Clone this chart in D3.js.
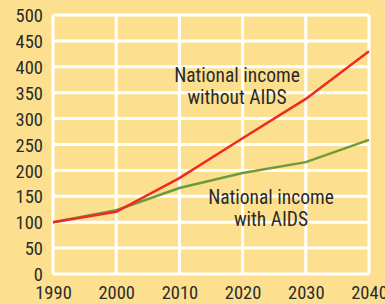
<!DOCTYPE html>
<html>
<head>
<meta charset="utf-8">
<script src="https://cdn.jsdelivr.net/npm/d3@7"></script>
<style>
  body { margin:0; background:#fde08f; }
  svg { display:block; }
  text { font-family:"Liberation Sans Narrow","Roboto Condensed","Liberation Sans",sans-serif; fill:#2b2b2b; }
</style>
</head>
<body>
<div id="vis"></div>
<script>
var years = [1990, 2000, 2010, 2020, 2030, 2040]
var withoutAids = [100, 120, 185, 262, 338, 430]
var withAids = [100, 123, 166, 195, 216, 259]
var yTicks = [0, 50, 100, 150, 200, 250, 300, 350, 400, 450, 500]

var width = 385, height = 304
var svg = d3.select("#vis").append("svg").attr("width", width).attr("height", height)

var x = d3.scaleLinear().domain([1990, 2040]).range([53, 369])
var y = d3.scaleLinear().domain([0, 500]).range([274, 15])

//grid
svg.append("g").selectAll("line").data(yTicks).enter().append("line")
    .attr("x1", 53).attr("x2", 369)
    .attr("y1", function(d){ return y(d) }).attr("y2", function(d){ return y(d) })
    .attr("stroke", "#fff").attr("stroke-width", 3)
svg.append("g").selectAll("line").data(years).enter().append("line")
    .attr("y1", 15).attr("y2", 274)
    .attr("x1", function(d){ return x(d) }).attr("x2", function(d){ return x(d) })
    .attr("stroke", "#fff").attr("stroke-width", 3)

//axes labels
var yAxis = svg.append("g").attr("transform", "translate(43,0)")
    .call(d3.axisLeft(y).tickValues(yTicks).tickSize(0).tickPadding(0))
yAxis.select(".domain").remove()
yAxis.selectAll("text").style("font-size", "18.5px").attr("dy", "0.36em").attr("fill", "#2b2b2b")

var xAxis = svg.append("g").attr("transform", "translate(0,286)")
    .call(d3.axisBottom(x).tickValues(years).tickFormat(d3.format("d")).tickSize(0).tickPadding(0))
xAxis.select(".domain").remove()
xAxis.selectAll("text").style("font-size", "18.5px").attr("dy", "0.71em").attr("fill", "#2b2b2b")

//lines
var line = d3.line().x(function(d, i){ return x(years[i]) }).y(function(d){ return y(d) })
svg.append("path").datum(withAids).attr("d", line)
    .attr("fill", "none").attr("stroke", "#6f9a3c").attr("stroke-width", 2.5)
svg.append("path").datum(withoutAids).attr("d", line)
    .attr("fill", "none").attr("stroke", "#ee2a24").attr("stroke-width", 2.5)

//annotations
function label(lines, cx, cy){
    var t = svg.append("text").attr("text-anchor", "middle").style("font-size", "19.5px")
    lines.forEach(function(s, i){
        t.append("tspan").attr("x", cx).attr("y", cy + i * 21.5).text(s)
    })
}
label(["National income", "without AIDS"], 237, 82)
label(["National income", "with AIDS"], 271, 204)
</script>
</body>
</html>
